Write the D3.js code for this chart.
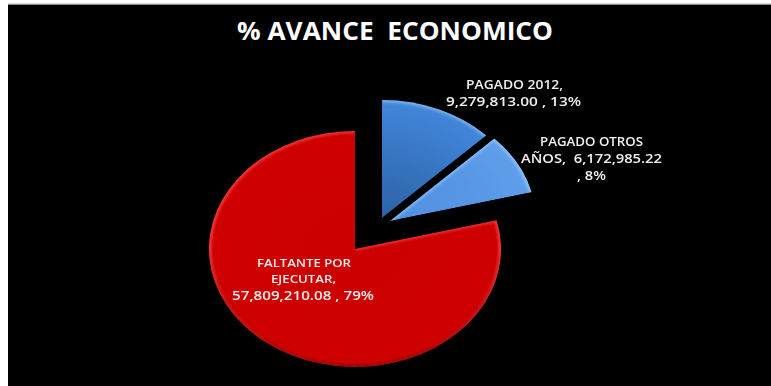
<!DOCTYPE html>
<html><head><meta charset="utf-8">
<script src="https://cdn.jsdelivr.net/npm/d3@7/dist/d3.min.js"></script>
<style>html,body{margin:0;padding:0;background:#fff}svg{display:block}</style>
</head><body><div id="c"></div>
<script>
const categories = ["PAGADO 2012","PAGADO OTROS AÑOS","FALTANTE POR EJECUTAR"];
const values = [9279813.00, 6172985.22, 57809210.08];
const percents = ["13%","8%","79%"];
const labelLines = [
  ["PAGADO 2012,","9,279,813.00 , 13%"],
  ["PAGADO OTROS","AÑOS,  6,172,985.22",", 8%"],
  ["FALTANTE POR","EJECUTAR,","57,809,210.08 , 79%"]
];
const titleText = "% AVANCE  ECONOMICO";

const W=771,H=386, cx=355, cy=249, rx=146, ry=118;
const explode=[[27,-31],[35,-28],[0,0]];
// per-line layout: [x start, x end, baseline, font size]
const labelLayout=[
  [[466,563,89,12.5],[446,581,106,13]],
  [[540,643,146,12.5],[521,662,163,13],[577,606,180,13]],
  [[257,351,267,11.5],[271,336,283,11.5],[232,374,300,13]]
];
const fills=[
 {id:"g0",stops:[[0,"#2c62a6"],[.45,"#3672bd"],[.8,"#3d7fd0"],[1,"#4387da"]]},
 {id:"g1",stops:[[0,"#4f90e0"],[.6,"#5797e5"],[1,"#5e9fea"]]},
 {id:"g2",stops:[[0,"#cc0000"],[1,"#cf0000"]]}
];
const rims=[
 ["#7fb6f2","#2a5a9a"],
 ["#90c2f6","#3f7cc4"],
 ["#f23a3a","#8a0606"]
];
const startEdge=[false,true,true];

const svg=d3.select("#c").append("svg").attr("width",W).attr("height",H);
svg.append("rect").attr("x",8).attr("y",4.5).attr("width",W-8).attr("height",H-4.5).attr("fill","#000");
svg.append("rect").attr("x",8).attr("y",3.6).attr("width",W-8).attr("height",1).attr("fill","#9a9a9a");

const defs=svg.append("defs");
const soft=defs.append("filter").attr("id","soft").attr("x","-10%").attr("y","-10%").attr("width","120%").attr("height","120%");
soft.append("feGaussianBlur").attr("stdDeviation",0.4);
const glow=defs.append("filter").attr("id","glow").attr("filterUnits","userSpaceOnUse")
  .attr("x",-ry-10).attr("y",-ry-10).attr("width",2*ry+20).attr("height",2*ry+20);
glow.append("feGaussianBlur").attr("stdDeviation",1.5);
const textBlur=defs.append("filter").attr("id","tb");
textBlur.append("feGaussianBlur").attr("stdDeviation",0.3);
fills.forEach((g,i)=>{
  const rg=defs.append("radialGradient").attr("id",g.id).attr("gradientUnits","userSpaceOnUse")
    .attr("cx",0).attr("cy",0).attr("r",ry);
  g.stops.forEach(s=>rg.append("stop").attr("offset",s[0]).attr("stop-color",s[1]));
  const lg=defs.append("linearGradient").attr("id","rim"+i).attr("gradientUnits","userSpaceOnUse")
    .attr("x1",0).attr("y1",-ry).attr("x2",0).attr("y2",ry);
  lg.append("stop").attr("offset",0).attr("stop-color",rims[i][0]);
  lg.append("stop").attr("offset",.5).attr("stop-color",rims[i][0]);
  lg.append("stop").attr("offset",1).attr("stop-color",rims[i][1]);
});

const pie=d3.pie().sort(null).value(d=>d);
const arcs=pie(values);
const arc=d3.arc().innerRadius(0).outerRadius(ry);
const rimArc=d3.arc().innerRadius(ry).outerRadius(ry);
const radial=d3.lineRadial();

arcs.forEach((d,i)=>{
  defs.append("clipPath").attr("id","clip"+i).append("path").attr("d",arc(d));
});
const slices=svg.selectAll("g.slice").data(arcs).join("g").attr("class","slice")
  .attr("filter","url(#soft)")
  .attr("transform",(d,i)=>`translate(${cx+explode[i][0]},${cy+explode[i][1]}) scale(${rx/ry},1)`);
const inner=slices.append("g").attr("clip-path",(d,i)=>`url(#clip${i})`);
inner.append("path").attr("d",arc).attr("fill",(d,i)=>`url(#${fills[i].id})`);
inner.append("path").attr("d",rimArc).attr("fill","none")
  .attr("stroke",(d,i)=>`url(#rim${i})`).attr("stroke-width",4)
  .attr("filter","url(#glow)");
inner.filter((d,i)=>startEdge[i]).append("path")
  .attr("d",d=>radial([[d.startAngle,0],[d.startAngle,ry]])).attr("fill","none")
  .attr("stroke",d=>`url(#rim${arcs.indexOf(d)})`).attr("stroke-width",3)
  .attr("filter","url(#glow)");

svg.append("text").attr("x",237).attr("y",40)
  .attr("textLength",316).attr("lengthAdjust","spacingAndGlyphs")
  .attr("font-family","'Open Sans',sans-serif").attr("font-weight",700).attr("font-size",25)
  .attr("fill","#fff").style("white-space","pre").text(titleText);

labelLines.forEach((lines,i)=>{
  lines.forEach((l,j)=>{
    const [x0,x1,y,fs]=labelLayout[i][j];
    svg.append("text").attr("x",x0).attr("y",y)
      .attr("textLength",x1-x0).attr("lengthAdjust","spacingAndGlyphs")
      .attr("font-family","'Open Sans',sans-serif").attr("font-weight",600).attr("font-size",fs)
      .attr("fill","#f4eeee").attr("filter","url(#tb)").style("white-space","pre").text(l);
  });
});
</script></body></html>
